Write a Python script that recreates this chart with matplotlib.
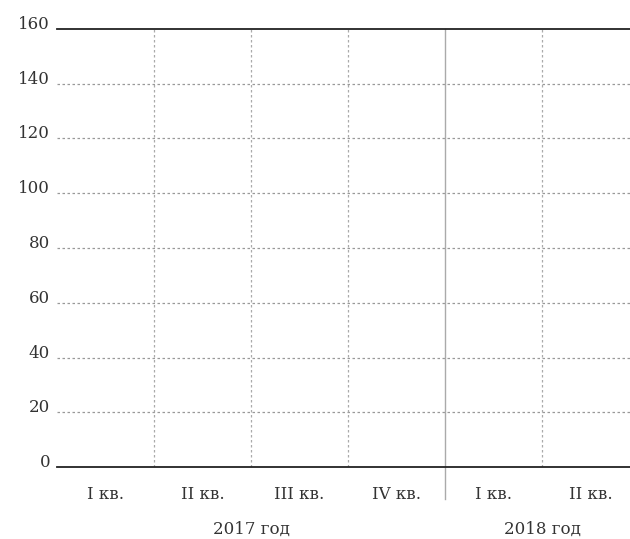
import matplotlib
matplotlib.use('Agg')
import matplotlib.pyplot as plt

# data (chart has no series drawn, only the frame)
quarters = ['I кв.', 'II кв.', 'III кв.', 'IV кв.', 'I кв.', 'II кв.']
years = ['2017 год', '2018 год']
year_spans = [(0, 4), (4, 6)]
y_ticks = [0, 20, 40, 60, 80, 100, 120, 140, 160]

plt.rcParams['font.family'] = ['DejaVu Serif', 'Liberation Serif']
txt_color = '#333333'
fs = 12

fig = plt.figure(figsize=(6.3, 5.39), dpi=100)
ax = fig.add_axes([57/630, 72/539, 582/630, 438/539])
ax.set_xlim(0, 6)
ax.set_ylim(0, 160)

for s in ['left', 'right']:
    ax.spines[s].set_visible(False)
for s in ['top', 'bottom']:
    ax.spines[s].set_color('#222222')
    ax.spines[s].set_linewidth(1.3)

# horizontal dotted grid
for v in y_ticks[1:-1]:
    ax.axhline(v, color='#999999', lw=0.9, ls=(0, (2, 2)), zorder=1)
# vertical dotted grid
for i in range(1, 6):
    if i == 4:
        continue
    ax.axvline(i, color='#aaaaaa', lw=0.9, ls=(0, (2, 2)), zorder=1)
# year separator
ax.axvline(4, ymin=-0.072, ymax=1, color='#aaaaaa', lw=1.0, clip_on=False, zorder=1)

ax.set_yticks(y_ticks)
ax.set_yticklabels([str(v) for v in y_ticks], fontsize=fs, color=txt_color)
ax.tick_params(axis='y', length=0, pad=5)
for lb in ax.get_yticklabels():
    lb.set_verticalalignment('baseline')

ax.set_xticks([i + 0.5 for i in range(len(quarters))])
ax.set_xticklabels(quarters, fontsize=fs, color=txt_color)
ax.tick_params(axis='x', length=0, pad=14)

for name, (a, b) in zip(years, year_spans):
    ax.text((a + b) / 2, -0.143, name, transform=ax.get_xaxis_transform(),
            ha='center', va='center', fontsize=fs, color=txt_color)

fig.savefig('out.png', dpi=100)
